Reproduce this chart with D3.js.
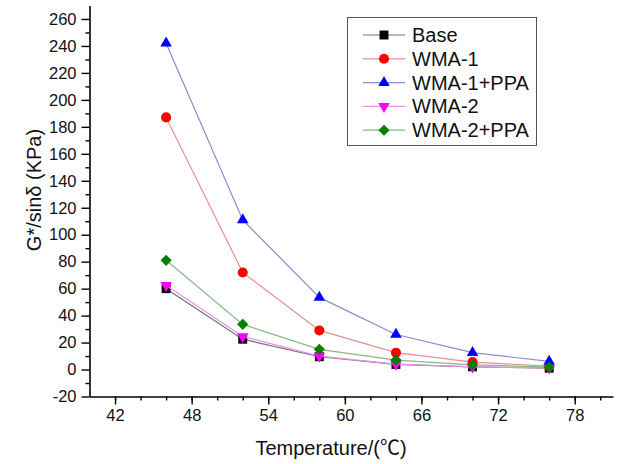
<!DOCTYPE html>
<html>
<head>
<meta charset="utf-8">
<script src="https://cdn.jsdelivr.net/npm/d3@7"></script>
<style>
  body { margin: 0; background: #fff; }
  text { font-family: "Liberation Sans", Arial, sans-serif; fill: #111; }
</style>
</head>
<body>
<div class="chart"></div>
<script>
//temperatures tested
var temperatures = [46, 52, 58, 64, 70, 76];

//G*/sin(delta) values for each binder
var baseValues = [60, 22.5, 9.5, 3.8, 2.0, 1.0];
var wma1Values = [187, 72, 29, 12.5, 5.5, 2.5];
var wma1PpaValues = [242, 111, 53.5, 26, 12.5, 6];
var wma2Values = [62.5, 24.5, 10, 4, 2, 1.2];
var wma2PpaValues = [81, 33.5, 15, 7, 3.5, 1.8];

//names shown in the legend
var seriesNames = ["Base", "WMA-1", "WMA-1+PPA", "WMA-2", "WMA-2+PPA"];

//tick labels on both axes
var xTickValues = [42, 48, 54, 60, 66, 72, 78];
var yTickValues = [-20, 0, 20, 40, 60, 80, 100, 120, 140, 160, 180, 200, 220, 240, 260];

//look of every series
var seriesStyle = [
  { color: "#000000", line: "#707070", shape: "square" },
  { color: "#ff0000", line: "#e89090", shape: "circle" },
  { color: "#0000ff", line: "#8c8cd0", shape: "triangle" },
  { color: "#ff00ff", line: "#e890e8", shape: "triangleDown" },
  { color: "#008000", line: "#88b888", shape: "diamond" }
];

var allValues = [baseValues, wma1Values, wma1PpaValues, wma2Values, wma2PpaValues];

var width = 621, height = 464;

var svg = d3.select(".chart").append("svg")
  .attr("width", width)
  .attr("height", height);

//scales
var x = d3.scaleLinear().domain([40, 81]).range([89.5, 613]);
var y = d3.scaleLinear().domain([-20, 270]).range([396.5, 5.5]);

//plain hyphen for negative numbers, like the original figure
function plainNumber(d) {
  return String(d);
}

//returns the path of a marker
function markerPath(shape) {
  if (shape === "square") return d3.symbol().type(d3.symbolSquare).size(80)();
  if (shape === "circle") return d3.symbol().type(d3.symbolCircle).size(80)();
  if (shape === "diamond") return d3.symbol().type(d3.symbolSquare).size(62)();
  return d3.symbol().type(d3.symbolTriangle).size(58)();
}

//rotation needed for some of the markers
function markerRotate(shape) {
  if (shape === "diamond") return 45;
  if (shape === "triangleDown") return 180;
  return 0;
}

//x axis with minor ticks every 2 degrees
var xMinor = d3.range(42, 81, 2);
svg.append("g")
  .attr("transform", "translate(0," + y(-20) + ")")
  .call(d3.axisBottom(x).tickValues(xMinor).tickSize(4).tickFormat(""))
  .call(function(g) { g.select(".domain").remove(); });

svg.append("g")
  .attr("class", "xaxis")
  .attr("transform", "translate(0," + y(-20) + ")")
  .call(d3.axisBottom(x).tickValues(xTickValues).tickFormat(plainNumber).tickSize(8).tickSizeOuter(0).tickPadding(5))
  .call(function(g) {
    g.selectAll("text").style("font-size", "16.5px").attr("fill", "#111");
  });

//y axis with minor ticks every 10
var yMinor = d3.range(-10, 270, 20);
svg.append("g")
  .attr("transform", "translate(" + x(40) + ",0)")
  .call(d3.axisLeft(y).tickValues(yMinor).tickSize(4).tickFormat(""))
  .call(function(g) { g.select(".domain").remove(); });

svg.append("g")
  .attr("class", "yaxis")
  .attr("transform", "translate(" + x(40) + ",0)")
  .call(d3.axisLeft(y).tickValues(yTickValues).tickFormat(plainNumber).tickSize(8).tickSizeOuter(0).tickPadding(5))
  .call(function(g) {
    g.selectAll("text").style("font-size", "16.5px").attr("fill", "#111");
  });

//thicker axis lines and ticks
svg.selectAll(".domain").attr("stroke-width", 1.6);
svg.selectAll(".tick line").attr("stroke-width", 1.4);

//axis titles
var xTitle = svg.append("text")
  .attr("x", 331)
  .attr("y", 455)
  .attr("text-anchor", "middle")
  .style("font-size", "20px");
xTitle.append("tspan").text("Temperature/(");
xTitle.append("tspan").style("font-family", "'Noto Sans CJK SC'").text("\u2103");
xTitle.append("tspan").text(")");

svg.append("text")
  .attr("transform", "translate(41,190) rotate(-90)")
  .attr("text-anchor", "middle")
  .style("font-size", "20px")
  .text("G*/sin\u03b4 (KPa)");

//line generator
var line = d3.line()
  .x(function(d, i) { return x(temperatures[i]); })
  .y(function(d) { return y(d); });

//draws each series: line first, then its markers
allValues.forEach(function(values, s) {
  var style = seriesStyle[s];
  var group = svg.append("g").attr("class", "series");

  group.append("path")
    .attr("d", line(values))
    .attr("fill", "none")
    .attr("stroke", style.line)
    .attr("stroke-width", 1.2);

  group.selectAll(".marker")
    .data(values)
    .enter()
    .append("path")
    .attr("class", "marker")
    .attr("d", markerPath(style.shape))
    .attr("transform", function(d, i) {
      return "translate(" + x(temperatures[i]) + "," + y(d) + ") rotate(" + markerRotate(style.shape) + ")";
    })
    .attr("fill", style.color);
});

//legend box
var legend = svg.append("g").attr("class", "legend");
legend.append("rect")
  .attr("x", 347.5)
  .attr("y", 17.5)
  .attr("width", 189)
  .attr("height", 128)
  .attr("fill", "#fff")
  .attr("stroke", "#555")
  .attr("stroke-width", 1);

seriesNames.forEach(function(name, s) {
  var style = seriesStyle[s];
  var rowY = 35 + s * 23.8;

  legend.append("line")
    .attr("x1", 363).attr("x2", 405)
    .attr("y1", rowY).attr("y2", rowY)
    .attr("stroke", style.line)
    .attr("stroke-width", 1.2);

  legend.append("path")
    .attr("d", markerPath(style.shape))
    .attr("transform", "translate(384," + rowY + ") rotate(" + markerRotate(style.shape) + ")")
    .attr("fill", style.color);

  legend.append("text")
    .attr("x", 412)
    .attr("y", rowY + 7)
    .style("font-size", "20px")
    .text(name);
});
</script>
</body>
</html>
